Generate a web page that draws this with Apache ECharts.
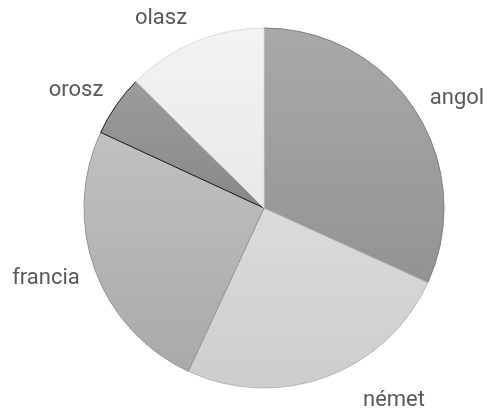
<!DOCTYPE html>
<html>
<head>
<meta charset="utf-8">
<script src="https://cdn.jsdelivr.net/npm/echarts@6/dist/echarts.min.js"></script>
<style>
html,body{margin:0;padding:0;background:#fff;}
#c{width:490px;height:414px;}
</style>
</head>
<body>
<div id="c"></div>
<script>
const categories = ['angol', 'német', 'francia', 'orosz', 'olasz'];
const values = [31.8, 25.1, 25.0, 5.5, 12.6];

const fillTop = ['#a9a9a9', '#dbdbdb', '#c1c1c1', '#9c9c9c', '#f3f3f3'];
const fillBottom = ['#939393', '#cdcdcd', '#a9a9a9', '#888888', '#e8e8e8'];
const borders = ['#7f7f7f', '#b5b5b5', '#959595', '#1a1a1a', '#dcdcdc'];
const labelPos = [[457, 98], [394, 400], [46, 278], [76, 90], [161, 18]];

const chart = echarts.init(document.getElementById('c'), null, {renderer: 'canvas'});
const data = categories.map((name, i) => ({
  name: name,
  value: values[i],
  itemStyle: {
    color: new echarts.graphic.LinearGradient(0, 0, 0, 1, [
      {offset: 0, color: fillTop[i]},
      {offset: 1, color: fillBottom[i]}
    ]),
    borderColor: borders[i],
    borderWidth: 1
  }
}));

chart.setOption({
  animation: false,
  series: [{
    type: 'pie',
    center: [264, 208],
    radius: [0, 180],
    startAngle: 90,
    clockwise: true,
    avoidLabelOverlap: false,
    data: data,
    label: {
      show: true,
      position: 'outside',
      formatter: '{b}',
      fontFamily: 'Roboto',
      fontSize: 22,
      color: '#595959'
    },
    labelLine: {show: false},
    labelLayout: function (params) {
      const p = labelPos[params.dataIndex];
      return {x: p[0], y: p[1], align: 'center', verticalAlign: 'middle'};
    },
    emphasis: {disabled: true}
  }]
});
</script>
</body>
</html>
